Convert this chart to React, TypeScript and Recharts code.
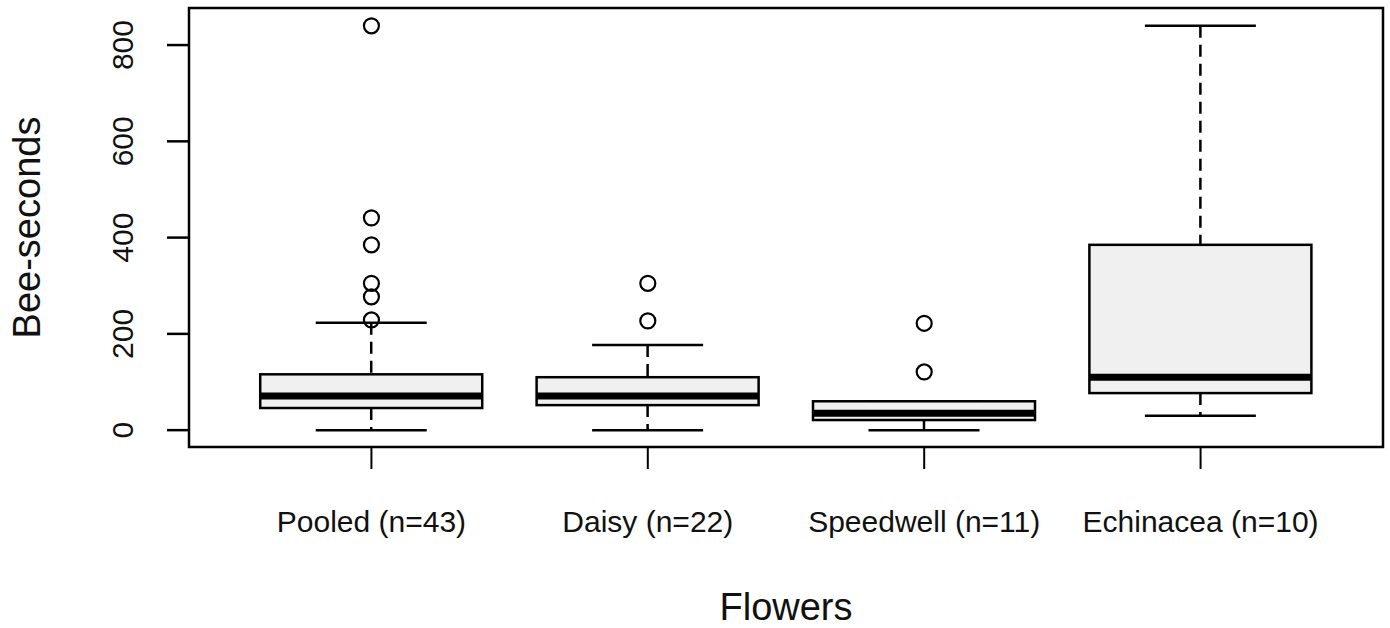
import React from "react";
import {
  ComposedChart,
  Bar,
  Scatter,
  XAxis,
  YAxis,
  ReferenceArea,
  Label,
} from "recharts";

const categories = [
  "Pooled (n=43)",
  "Daisy (n=22)",
  "Speedwell (n=11)",
  "Echinacea (n=10)",
];
const positions = [1, 2, 3, 4];
const whiskerLow = [0, 0, 0, 30];
const q1 = [46, 52, 21, 77];
const median = [71, 71, 35, 110];
const q3 = [116, 110, 60, 385];
const whiskerHigh = [223, 177, 60, 840];
const outliers = [
  [229, 277, 305, 385, 441, 840],
  [227, 305],
  [121, 222],
  [],
];
const yTicks = [0, 200, 400, 600, 800];

const boxData = categories.map((name, i) => ({
  name,
  pos: positions[i],
  lo: whiskerLow[i],
  q1: q1[i],
  med: median[i],
  q3: q3[i],
  hi: whiskerHigh[i],
}));

const outlierData = outliers.flatMap((vals, i) =>
  vals.map((value) => ({ pos: positions[i], value }))
);

const FONT = "'Liberation Sans', Arial, sans-serif";
const INK = "#111";

const BoxShape = (props: any) => {
  const { x, y, width, height, payload } = props;
  const { lo, q1, med, q3, hi } = payload;
  const bottom = y + height;
  const py = (v: number) =>
    hi === lo ? bottom : bottom - ((v - lo) / (hi - lo)) * height;
  const cx = x + width / 2;
  const cap = width / 4;
  const dash = "12 7";
  return (
    <g>
      <line x1={cx} x2={cx} y1={py(hi)} y2={py(q3)} stroke="#000" strokeWidth={2.5} strokeDasharray={dash} />
      <line x1={cx} x2={cx} y1={py(q1)} y2={py(lo)} stroke="#000" strokeWidth={2.5} strokeDasharray={dash} />
      <line x1={cx - cap} x2={cx + cap} y1={py(hi)} y2={py(hi)} stroke="#000" strokeWidth={2.5} />
      <line x1={cx - cap} x2={cx + cap} y1={py(lo)} y2={py(lo)} stroke="#000" strokeWidth={2.5} />
      <rect
        x={x}
        y={py(q3)}
        width={width}
        height={py(q1) - py(q3)}
        fill="#F0F0F0"
        stroke="#000"
        strokeWidth={2.5}
      />
      <line x1={x} x2={x + width} y1={py(med)} y2={py(med)} stroke="#000" strokeWidth={7} />
    </g>
  );
};

const OutlierShape = (props: any) => (
  <circle cx={props.cx} cy={props.cy} r={7.5} fill="none" stroke="#000" strokeWidth={2.2} />
);

const XTick = ({ x, y, payload }: any) => (
  <text x={x} y={y + 61} textAnchor="middle" fontSize={30} fill={INK} fontFamily={FONT}>
    {categories[positions.indexOf(payload.value)]}
  </text>
);

const YTick = ({ x, y, payload }: any) => {
  const bx = x - 32;
  return (
    <text
      x={bx}
      y={y}
      transform={`rotate(-90, ${bx}, ${y})`}
      textAnchor="middle"
      fontSize={30}
      fill={INK}
      fontFamily={FONT}
    >
      {payload.value}
    </text>
  );
};

const XTitle = ({ viewBox }: any) => (
  <text
    x={viewBox.x + viewBox.width / 2}
    y={viewBox.y + 173}
    textAnchor="middle"
    fontSize={38}
    fill={INK}
    fontFamily={FONT}
  >
    Flowers
  </text>
);

const YTitle = ({ viewBox }: any) => {
  const cy = viewBox.y + viewBox.height / 2;
  return (
    <text
      x={40}
      y={cy}
      transform={`rotate(-90, 40, ${cy})`}
      textAnchor="middle"
      fontSize={38}
      fill={INK}
      fontFamily={FONT}
    >
      Bee-seconds
    </text>
  );
};

export default function App() {
  return (
    <div style={{ position: "absolute", left: 0, top: 0, width: 1390, height: 628, background: "#fff" }}>
      <ComposedChart
        width={1390}
        height={628}
        data={boxData}
        margin={{ top: 8, right: 7, bottom: 0, left: 0 }}
      >
        <XAxis
          type="number"
          dataKey="pos"
          domain={[0.34, 4.66]}
          ticks={positions}
          allowDataOverflow
          interval={0}
          height={181}
          tickSize={22}
          axisLine={false}
          tickLine={{ stroke: "#000", strokeWidth: 2 }}
          tick={<XTick />}
        >
          <Label content={<XTitle />} />
        </XAxis>
        <YAxis
          type="number"
          domain={[-35, 877]}
          ticks={yTicks}
          allowDataOverflow
          interval={0}
          width={189}
          tickSize={22}
          axisLine={false}
          tickLine={{ stroke: "#000", strokeWidth: 2.5 }}
          tick={<YTick />}
        >
          <Label content={<YTitle />} />
        </YAxis>
        <Bar
          dataKey={(d: any) => [d.lo, d.hi]}
          barSize={222}
          shape={<BoxShape />}
          isAnimationActive={false}
        />
        <Scatter
          data={outlierData}
          dataKey="value"
          shape={<OutlierShape />}
          isAnimationActive={false}
        />
        <ReferenceArea
          x1={0.34}
          x2={4.66}
          y1={-35}
          y2={877}
          fill="none"
          fillOpacity={0}
          stroke="#000"
          strokeWidth={2.5}
          ifOverflow="visible"
        />
      </ComposedChart>
    </div>
  );
}
